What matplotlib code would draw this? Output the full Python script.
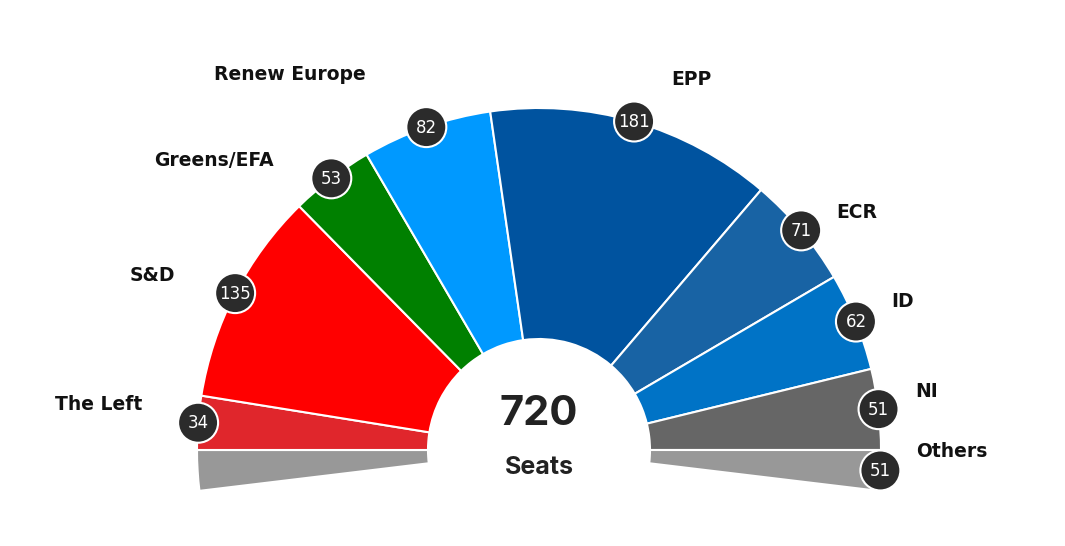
import numpy as np
import matplotlib
matplotlib.use("Agg")
import matplotlib.pyplot as plt
from matplotlib.patches import Wedge, Circle

# seats per group, left to right
parties = ["The Left", "S&D", "Greens/EFA", "Renew Europe", "EPP", "ECR", "ID", "NI", "Others"]
seats = [34, 135, 53, 82, 181, 71, 62, 51, 51]
colors = ["#e0262c", "#ff0000", "#008000", "#0099ff", "#00539f", "#1863a4", "#0073c6", "#666666", "#989898"]
total_label = "720"
sub_label = "Seats"

# layout (pixels, y up)
W, H = 1065, 546
cx, cy = 539, 96
r_out, r_in = 342, 111
badge_r = 20
# label offsets from badge centre (px), and alignment
label_off = [(-56, 18, "right"), (-60, 18, "right"), (-58, 18, "right"), (-61, 53, "right"),
             (37, 42, "left"), (35, 18, "left"), (35, 20, "left"), (37, 18, "left"), (36, 19, "left")]

plt.rcParams['font.family'] = ['DejaVu Sans']

fig = plt.figure(figsize=(W / 100, H / 100), dpi=100)
ax = fig.add_axes([0, 0, 1, 1])
ax.set_xlim(0, W)
ax.set_ylim(0, H)
ax.axis('off')

# "Others" is split in two halves, one at each end of the arch
total = sum(seats)
others = seats[-1]
deg_per_seat = 180.0 / (total - others)
slices = [(others / 2, colors[-1])] + list(zip(seats[:-1], colors[:-1])) + [(others / 2, colors[-1])]

theta = 180 + others / 2 * deg_per_seat
mids = []
for val, col in slices:
    t2 = theta - val * deg_per_seat
    ax.add_patch(Wedge((cx, cy), r_out, t2, theta, width=r_out - r_in,
                       facecolor=col, edgecolor="white", linewidth=1.5))
    mids.append((theta + t2) / 2)
    theta = t2

# badges: one per party, Others badge on the right half
badge_angles = mids[1:-1] + [mids[-1]]
for name, val, ang, (dx, dy, ha) in zip(parties, seats, badge_angles, label_off):
    bx = cx + r_out * np.cos(np.radians(ang))
    by = cy + r_out * np.sin(np.radians(ang))
    ax.add_patch(Circle((bx, by), badge_r, facecolor="#2b2b2b", edgecolor="white",
                        linewidth=1.5, zorder=5))
    ax.text(bx, by - 0.5, str(val), color="white", fontsize=12,
            ha="center", va="center", zorder=6)
    ax.text(bx + dx, by + dy, name, fontsize=13.5, fontweight="bold", ha=ha, va="center",
            color="#111111")

ax.text(cx, cy + 36, total_label, fontsize=30, fontweight="bold", ha="center", va="center",
        color="#222222", family=["Inter", "DejaVu Sans"])
ax.text(cx, cy - 18, sub_label, fontsize=18, fontweight="bold", ha="center", va="center",
        color="#222222", family=["Inter", "DejaVu Sans"])

fig.savefig("out.png", dpi=100, facecolor="white")
